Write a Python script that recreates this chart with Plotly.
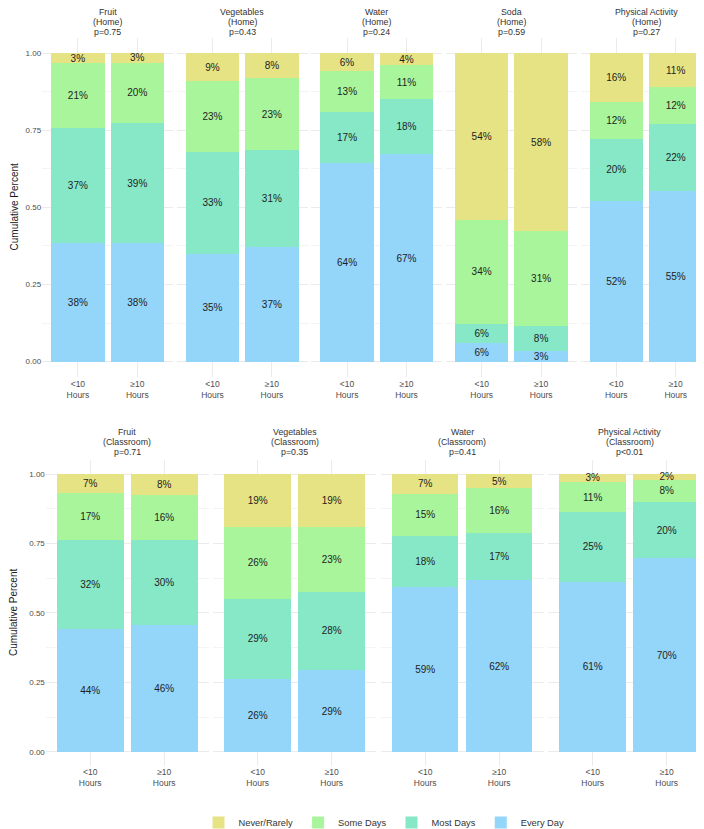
import plotly.graph_objects as go

W, H = 704, 829

categories = ["<10<br>Hours", "≥10<br>Hours"]
levels = ["Every Day", "Most Days", "Some Days", "Never/Rarely"]
level_colors = {
    "Never/Rarely": "#E6E384",
    "Some Days": "#A9F59C",
    "Most Days": "#87E8C8",
    "Every Day": "#94D5FA",
}

# percentages, [<10 Hours, >=10 Hours]
fruit_home = {"Every Day": [38.4, 38.4], "Most Days": [37.4, 38.9], "Some Days": [20.9, 19.7], "Never/Rarely": [3.3, 3.0]}
veg_home = {"Every Day": [35.0, 37.3], "Most Days": [33.0, 31.3], "Some Days": [23.0, 23.3], "Never/Rarely": [9.0, 8.1]}
water_home = {"Every Day": [64.3, 67.2], "Most Days": [16.8, 17.9], "Some Days": [13.0, 11.0], "Never/Rarely": [5.9, 3.9]}
soda_home = {"Every Day": [5.9, 3.3], "Most Days": [6.4, 8.3], "Some Days": [33.6, 30.8], "Never/Rarely": [54.1, 57.6]}
pa_home = {"Every Day": [52.0, 55.3], "Most Days": [20.3, 21.7], "Some Days": [12.0, 12.0], "Never/Rarely": [15.7, 11.0]}
fruit_class = {"Every Day": [44.4, 45.8], "Most Days": [31.8, 30.4], "Some Days": [17.0, 16.2], "Never/Rarely": [6.8, 7.6]}
veg_class = {"Every Day": [26.3, 29.4], "Most Days": [28.8, 28.3], "Some Days": [25.8, 23.4], "Never/Rarely": [19.1, 18.9]}
water_class = {"Every Day": [59.4, 61.8], "Most Days": [18.3, 16.9], "Some Days": [15.2, 16.2], "Never/Rarely": [7.1, 5.1]}
pa_class = {"Every Day": [61.3, 69.7], "Most Days": [24.9, 20.1], "Some Days": [11.0, 8.2], "Never/Rarely": [2.8, 2.0]}

top_titles = [("Fruit", "(Home)", "p=0.75"), ("Vegetables", "(Home)", "p=0.43"),
              ("Water", "(Home)", "p=0.24"), ("Soda", "(Home)", "p=0.59"),
              ("Physical Activity", "(Home)", "p=0.27")]
bottom_titles = [("Fruit", "(Classroom)", "p=0.71"), ("Vegetables", "(Classroom)", "p=0.35"),
                 ("Water", "(Classroom)", "p=0.41"), ("Physical Activity", "(Classroom)", "p<0.01")]

top_data = [fruit_home, veg_home, water_home, soda_home, pa_home]
bottom_data = [fruit_class, veg_class, water_class, pa_class]

FONT = "Arial, Liberation Sans, sans-serif"

def fx(p):
    return p / W

def fy(p):
    return 1 - p / H

# panel geometry in pixels: (left, width, top, bottom)
panels = []
for i in range(5):
    panels.append((34.2 + i * 134.6, 130.8, 30.1, 372.2, top_titles[i], top_data[i], i == 0, (4.3, 14.6, 24.4)))
for i in range(4):
    panels.append((37.8 + i * 167.5, 162.8, 456.0, 764.3, bottom_titles[i], bottom_data[i], i == 0, (427.6, 437.8, 448.0)))

fig = go.Figure()
layout = {}
annotations = []

for k, (left, width, top, bottom, titles, data, first, title_ys) in enumerate(panels, start=1):
    xa = "x" if k == 1 else f"x{k}"
    ya = "y" if k == 1 else f"y{k}"
    for lvl in levels:
        vals = data[lvl]
        fig.add_trace(go.Bar(
            x=categories,
            y=[v / 100 for v in vals],
            text=[f"{round(v)}%" for v in vals],
            name=lvl,
            legendgroup=lvl,
            showlegend=(k == 1),
            marker=dict(color=level_colors[lvl], line=dict(width=0)),
            width=0.9,
            xaxis=xa, yaxis=ya,
            textposition="inside",
            insidetextanchor="middle",
            textangle=0,
            textfont=dict(size=10, color="#1E1E1E", family=FONT),
            hoverinfo="skip",
        ))
    xkey = "xaxis" if k == 1 else f"xaxis{k}"
    ykey = "yaxis" if k == 1 else f"yaxis{k}"
    layout[xkey] = dict(
        domain=[fx(left), fx(left + width)],
        anchor=ya, type="category", range=[-0.6, 1.6],
        showgrid=True, gridcolor="#EBEBEB", gridwidth=1,
        zeroline=False, showline=False, ticks="",
        tickfont=dict(size=8.5, color="#4D4D4D", family=FONT),
        fixedrange=True, automargin=False,
    )
    layout[ykey] = dict(
        domain=[fy(bottom), fy(top)],
        anchor=xa, range=[-0.05, 1.05],
        tick0=0, dtick=0.25, tickformat=".2f",
        showgrid=True, gridcolor="#EBEBEB", gridwidth=1,
        minor=dict(dtick=0.125, showgrid=True, gridcolor="#F4F4F4", gridwidth=0.6),
        zeroline=False, showline=False, ticks="",
        showticklabels=first,
        tickfont=dict(size=8, color="#4D4D4D", family=FONT),
        fixedrange=True, automargin=False,
    )
    cx = fx(left + width / 2)
    for txt, ty in zip(titles, title_ys):
        annotations.append(dict(
            text=txt, x=cx, y=fy(ty), xref="paper", yref="paper",
            xanchor="center", yanchor="middle", showarrow=False,
            font=dict(size=8.8, color="#333333", family=FONT),
        ))
    if first:
        annotations.append(dict(
            text="Cumulative Percent", x=fx(6), y=fy((top + bottom) / 2),
            xref="paper", yref="paper", xanchor="center", yanchor="middle",
            textangle=-90, showarrow=False,
            font=dict(size=10, color="#1A1A1A", family=FONT),
        ))

fig.update_layout(
    **layout,
    annotations=annotations,
    barmode="stack",
    width=W, height=H,
    margin=dict(l=0, r=0, t=0, b=0),
    paper_bgcolor="white", plot_bgcolor="white",
    font=dict(family=FONT, color="#333333"),
    uniformtext=dict(minsize=10, mode="show"),
    legend=dict(
        orientation="h", x=fx(376), xanchor="center", y=fy(821.5), yanchor="middle",
        traceorder="reversed", font=dict(size=9.3, color="#333333", family=FONT),
        itemwidth=30, bgcolor="rgba(0,0,0,0)",
    ),
    showlegend=True,
)

fig.write_html("out.html")
